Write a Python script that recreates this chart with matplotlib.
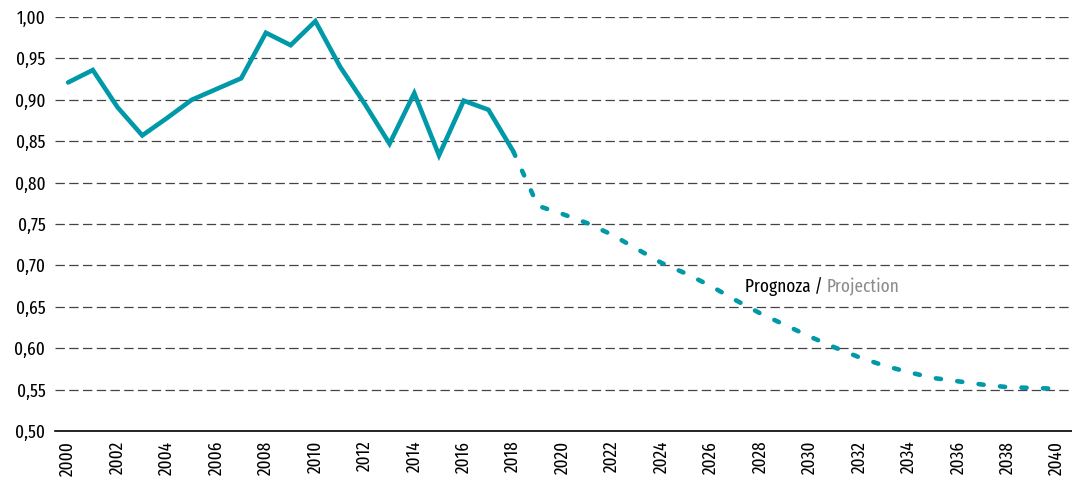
import matplotlib
matplotlib.use('Agg')
import matplotlib.pyplot as plt

plt.rcParams['font.family'] = ['Fira Sans Extra Condensed', 'DejaVu Sans']

# historical values
years_hist = list(range(2000, 2019))
values_hist = [0.921, 0.936, 0.891, 0.857, 0.878, 0.900, 0.913, 0.926, 0.981, 0.966,
               0.995, 0.940, 0.895, 0.847, 0.908, 0.833, 0.899, 0.888, 0.838]

# projection
years_proj = list(range(2018, 2041))
values_proj = [0.838, 0.772, 0.762, 0.751, 0.737, 0.720, 0.703, 0.690, 0.675, 0.658,
               0.642, 0.628, 0.614, 0.601, 0.589, 0.579, 0.571, 0.564, 0.560, 0.556,
               0.553, 0.552, 0.551]

yticks = [0.50, 0.55, 0.60, 0.65, 0.70, 0.75, 0.80, 0.85, 0.90, 0.95, 1.00]
xticks = list(range(2000, 2041, 2))

teal = '#0099a8'

fig = plt.figure(figsize=(10.72, 4.94), dpi=100)
ax = fig.add_axes([0.0513, 0.1275, 0.9487, 0.838])

ax.plot(years_hist, values_hist, color=teal, lw=3.3, solid_joinstyle='miter',
        solid_capstyle='round', clip_on=False, zorder=3)
ax.plot(years_proj, values_proj, color=teal, lw=3.3, dashes=(1.1, 3.6),
        dash_capstyle='round', clip_on=False, zorder=3)

# label: black Polish part, grey English part
t1 = ax.text(2027.39, 0.674, 'Prognoza / ', fontsize=13.5, color='black',
             ha='left', va='center')
ax.annotate('Projection', xy=(1, 0.5), xycoords=t1, fontsize=13.5, color='#8c8c8c',
            ha='left', va='center')

ax.set_xlim(1999.47, 2040.6)
ax.set_ylim(0.5, 1.0)
ax.set_yticks(yticks)
ax.set_yticklabels([f'{v:.2f}'.replace('.', ',') for v in yticks], fontsize=13.5)
ax.set_xticks(xticks)
ax.set_xticklabels([str(x) for x in xticks], rotation=90, fontsize=13.5)
ax.tick_params(length=0, pad=7)

for v in yticks[1:]:
    ax.axhline(v, color='#444444', lw=0.9, dashes=(7.5, 3.5), zorder=1)

for s in ['top', 'right', 'left']:
    ax.spines[s].set_visible(False)
ax.spines['bottom'].set_color('black')
ax.spines['bottom'].set_linewidth(1.2)

fig.savefig('out.png', dpi=100)
